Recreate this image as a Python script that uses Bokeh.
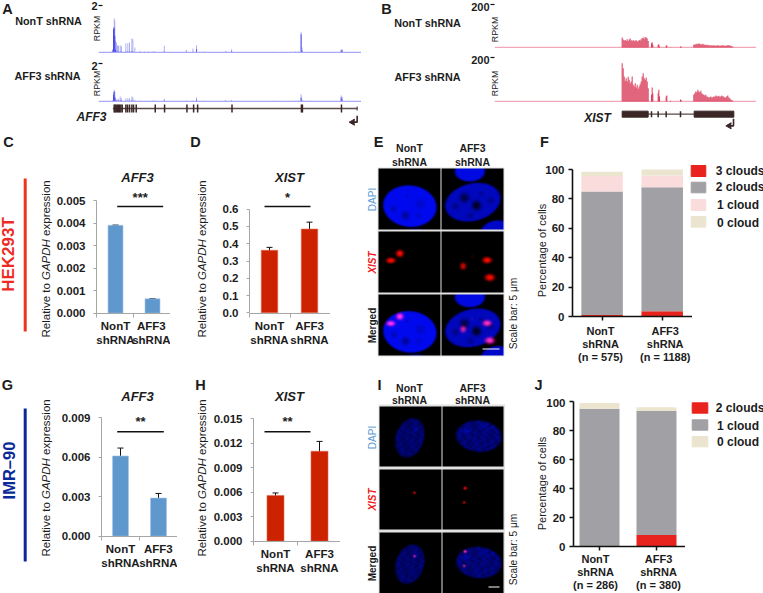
import math
import numpy as np
from bokeh.plotting import figure
from bokeh.layouts import column
from bokeh.models import (Range1d, FixedTicker, NumeralTickFormatter, Whisker, TeeHead,
                          ColumnDataSource)
from bokeh.core.properties import value
from bokeh.embed import file_html
from bokeh.resources import INLINE

FONT = "Liberation Sans"
INK = "#1c1c1c"

# ---------- data ----------
cats = ["NonT\nshRNA", "AFF3\nshRNA"]

c_vals, c_errs = [0.0039, 0.00064], [0.00001, 0.000008]
d_vals, d_errs = [0.362, 0.485], [0.017, 0.04]
g_vals, g_errs = [0.0061, 0.0029], [0.0006, 0.00035]
h_vals, h_errs = [0.0056, 0.0110], [0.0003, 0.0012]

f_cats = ["NonT\nshRNA\n(n = 575)", "AFF3\nshRNA\n(n = 1188)"]
f_3 = [1.0, 3.5]
f_2 = [84.0, 84.5]
f_1 = [10.5, 8.0]
f_0 = [3.0, 4.0]
j_cats = ["NonT\nshRNA\n(n = 286)", "AFF3\nshRNA\n(n = 380)"]
j_2 = [0.0, 8.0]
j_1 = [95.0, 85.5]
j_0 = [4.0, 2.5]

# track A: positions along the gene, read heights
a_pos = [335, 338, 340, 342, 344, 346, 349, 352, 355, 360, 364, 377, 383, 388, 395, 398, 404, 419, 433, 445, 458,
         463, 492, 558, 578, 589, 613, 675, 678, 694, 818, 885, 895, 902, 905, 932, 1022, 1025]
a1_light = [3, 10, 75, 102, 95, 35, 30, 22, 20, 22, 18, 28, 28, 30, 42, 40, 15, 5, 3, 3, 4,
            4, 20, 8, 12, 22, 3, 4, 3, 10, 2, 3, 4, 62, 15, 2, 10, 10]
a1_dark = [0, 6, 70, 75, 50, 8, 3, 2, 2, 3, 2, 3, 3, 3, 4, 3, 1, 1, 1, 1, 1,
           1, 3, 2, 2, 10, 1, 1, 1, 4, 1, 1, 1, 55, 5, 1, 6, 6]
a2_light = [1, 4, 28, 35, 30, 12, 6, 5, 8, 15, 10, 10, 10, 10, 15, 12, 5, 3, 2, 2, 3,
            3, 8, 3, 3, 12, 2, 4, 2, 4, 2, 2, 3, 22, 6, 2, 18, 14]
a2_dark = [0, 2, 20, 30, 12, 3, 2, 1, 2, 4, 2, 2, 2, 2, 3, 2, 1, 1, 1, 1, 1,
           1, 3, 1, 1, 5, 1, 2, 1, 2, 1, 1, 1, 12, 2, 1, 12, 6]
a_exons = [342, 345, 348, 352, 355, 358, 362, 366, 377, 382, 388, 395, 400, 408, 465, 493, 560, 580, 592, 695, 903,
           906, 1023]

# track B: read heights on the two exon blocks and the small exons
b_left_pos = list(range(725, 806, 3))
b1_left = [30, 24, 21, 23, 20, 25, 20, 24, 27, 22, 20, 23, 19, 21, 22, 18, 20, 23, 21, 25, 28, 30, 26, 32, 30, 27, 20]
b2_left = [115, 100, 75, 62, 70, 60, 74, 65, 55, 60, 75, 50, 45, 55, 42, 50, 38, 45, 52, 60, 75, 85, 70, 65, 72, 60, 40]
b_mid_pos = [813, 815, 817, 833, 835, 837, 857, 859, 870, 900, 902]
b1_mid = [13, 16, 8, 8, 10, 3, 6, 6, 1, 3, 2]
b2_mid = [20, 42, 25, 25, 35, 15, 15, 18, 2, 6, 4]
b_right_pos = list(range(940, 1060, 3))
b1_right = [8, 9, 10, 11, 10, 12, 11, 10, 9, 11, 9, 8, 8, 7, 8, 7, 6, 7, 6, 6, 7, 6, 5, 6, 7, 6, 5, 6, 6, 7, 6, 5, 5,
            6, 7, 7, 6, 5, 4, 2]
b2_right = [20, 25, 30, 28, 35, 30, 28, 32, 25, 22, 20, 18, 20, 15, 14, 12, 13, 15, 12, 13, 15, 14, 18, 15, 16, 17, 14,
            15, 18, 16, 14, 12, 12, 16, 18, 12, 10, 6, 4, 2]
b_small_exons = [813, 833, 857, 900]

BLUE_BAR, RED_BAR = "#5f98cd", "#cc2200"
STACK = {"3": "#e8231e", "2": "#a1a0a4", "1": "#fbdcdc", "0": "#ebe5cf"}

figs = []
LEFT_GUTTER = 50   # every figure in the column has the same left border, so their frames stay where they are put


def base(fx0, fy0, fx1, fy1, xr, yr, bb=50, bt=0):
    p = figure(width=int(fx1 - fx0 + LEFT_GUTTER), height=int(fy1 - fy0 + bt + bb),
               x_range=Range1d(*xr), y_range=Range1d(*yr),
               min_border_left=LEFT_GUTTER, min_border_right=0, min_border_top=bt, min_border_bottom=bb,
               output_backend="svg", toolbar_location=None,
               background_fill_color=None, border_fill_color=None, outline_line_color=None,
               styles={"position": "absolute", "left": f"{int(fx0)}px", "top": f"{int(fy0 - bt)}px"})
    p.grid.visible = False
    figs.append(p)
    return p


def cal(edge0, edge1, px0, v0, px1, v1):
    k = (v1 - v0) / (px1 - px0)
    return (v0 + (edge0 - px0) * k, v0 + (edge1 - px0) * k)


def bar_panel(left, right, top, bottom, y0px, ytop_px, ymax, ticks, fmt, xpx, width, vals, errs, color,
              sig, stars, stars_px, sig_px, divs):
    xr = cal(left, right, divs[0], 0, divs[1], 1)
    yr = cal(bottom, top, y0px, 0, ytop_px, ymax)
    p = base(left, top, right, bottom, xr, yr)
    k = 1 / (divs[1] - divs[0])
    xs = [(x - divs[0]) * k for x in xpx]
    p.vbar(x=xs, top=vals, bottom=0, width=width * k, color=color, line_color="#a9c8e6" if color == BLUE_BAR else "#e06a50", line_width=0.6)
    src = ColumnDataSource(dict(x=xs, lo=[v - e for v, e in zip(vals, errs)], hi=[v + e for v, e in zip(vals, errs)]))
    p.add_layout(Whisker(base="x", lower="lo", upper="hi", source=src, line_color="#111111", line_width=1,
                         upper_head=TeeHead(size=6, line_color="#111111"), lower_head=TeeHead(size=6, line_color="#111111")))
    yv = lambda px: (y0px - px) / (y0px - ytop_px) * ymax
    p.line(x=[(sig[0] - divs[0]) * k, (sig[1] - divs[0]) * k], y=[yv(sig_px), yv(sig_px)], line_color="#111111", line_width=1.6)
    p.text(x=[(sum(sig) / 2 - divs[0]) * k], y=[yv(stars_px)], text=[stars], text_align="center", text_baseline="middle",
           text_font=value(FONT), text_font_style="bold", text_font_size="13px", text_color=INK)
    ya = p.yaxis[0]
    ya.ticker = FixedTicker(ticks=ticks)
    ya.formatter = NumeralTickFormatter(format=fmt)
    ya.bounds = (0, ymax)
    ya.axis_line_color = "#a6a6a6"
    ya.major_tick_line_color = "#a6a6a6"
    ya.major_tick_in = 0
    ya.major_tick_out = 3
    ya.minor_tick_line_color = None
    ya.major_label_standoff = 8
    ya.major_label_text_font = FONT
    ya.major_label_text_font_style = "bold"
    ya.major_label_text_font_size = "11.5px"
    ya.major_label_text_color = INK
    xa = p.xaxis[0]
    tks = [round(x, 4) for x in xs]
    xa.ticker = FixedTicker(ticks=tks, minor_ticks=[0, 1, 2])
    xa.major_label_overrides = {t: c for t, c in zip(tks, cats)}
    xa.axis_line_color = "#a6a6a6"
    xa.major_tick_line_color = None
    xa.minor_tick_line_color = "#a6a6a6"
    xa.minor_tick_in = 0
    xa.minor_tick_out = 4
    xa.major_tick_out = 0
    xa.major_tick_in = 0
    xa.major_label_standoff = 2
    xa.major_label_text_font = FONT
    xa.major_label_text_font_style = "bold"
    xa.major_label_text_font_size = "11.5px"
    xa.major_label_text_color = INK
    return p


bar_panel(96, 170, 190, 313, 312.7, 200, 0.005, [0, 0.001, 0.002, 0.003, 0.004, 0.005], "0.000",
          [115, 152], 15, c_vals, c_errs, BLUE_BAR, (116.7, 162.7), "***", 197, 206, (96, 133))
bar_panel(249, 330, 190, 313, 312.3, 208.7, 0.6, [0, .1, .2, .3, .4, .5, .6], "0.0",
          [269, 309], 16.5, d_vals, d_errs, RED_BAR, (264, 310), "*", 197, 206, (249, 289.5))
bar_panel(101, 177, 410, 536, 535.7, 417.3, 0.009, [0, .003, .006, .009], "0.000",
          [120, 158], 16, g_vals, g_errs, BLUE_BAR, (116.7, 163.3), "**", 421, 431.3, (101, 139))
bar_panel(253, 340, 410, 541, 540.7, 418, 0.015, [0, .003, .006, .009, .012, .015], "0.000",
          [275, 319], 17, h_vals, h_errs, RED_BAR, (264, 310), "**", 421, 431.3, (253, 296.5))


def stack_panel(left, right, top, bottom, y0px, y100px, barc, barw, labelc, labels, layers, standoff):
    k = 1 / (barc[1] - barc[0])
    xr = cal(left, right, barc[0], 0, barc[1], 1)
    yr = cal(bottom, top, y0px, 0, y100px, 100)
    p = base(left, top, right, bottom, xr, yr, bb=70)
    bottoms = [0.0, 0.0]
    for vals, col in layers:
        tops = [b + v for b, v in zip(bottoms, vals)]
        p.vbar(x=[0, 1], top=tops, bottom=bottoms, width=barw * k, color=col, line_color=None)
        bottoms = tops
    ya = p.yaxis[0]
    ya.ticker = FixedTicker(ticks=[0, 20, 40, 60, 80, 100])
    ya.bounds = (0, 100)
    for ax in (ya, p.xaxis[0]):
        ax.axis_line_color = "#111111"
        ax.axis_line_width = 1.6
        ax.major_label_text_font = FONT
        ax.major_label_text_font_style = "bold"
        ax.major_label_text_color = INK
    ya.major_tick_line_color = "#111111"
    ya.major_tick_line_width = 1.5
    ya.major_tick_in = 0
    ya.major_tick_out = 4
    ya.minor_tick_line_color = None
    ya.major_label_standoff = 4
    ya.major_label_text_font_size = "11.5px"
    xa = p.xaxis[0]
    tks = [round((c - barc[0]) * k, 4) for c in labelc]
    xa.ticker = FixedTicker(ticks=tks, minor_ticks=[0, 1])
    xa.major_label_overrides = {t: c for t, c in zip(tks, labels)}
    xa.major_tick_line_color = None
    xa.major_tick_in = 0
    xa.major_tick_out = 0
    xa.minor_tick_line_color = "#111111"
    xa.minor_tick_in = 0
    xa.minor_tick_out = 4
    xa.minor_tick_line_width = 1.5
    xa.major_label_standoff = standoff
    xa.major_label_text_font_size = "11px"
    xa.major_label_text_line_height = 1.1
    return p


stack_panel(572, 692, 165, 316, 316, 169, (601.6, 661.7), 41.5, (600, 664.7), f_cats,
            [(f_3, STACK["3"]), (f_2, STACK["2"]), (f_1, STACK["1"]), (f_0, STACK["0"])], 4)
stack_panel(573, 685, 398, 546, 546, 401, (599, 656), 40, (595, 658), j_cats,
            [(j_2, STACK["3"]), (j_1, STACK["2"]), (j_0, STACK["0"])], 2)


# ---------- genome tracks ----------
def track_axis(p, tick, tick_in, tick_out, standoff, size="11px"):
    ya = p.yaxis[0]
    ya.ticker = FixedTicker(ticks=[tick])
    ya.axis_line_color = None
    ya.major_tick_line_color = "#111111"
    ya.major_tick_line_width = 1.2
    ya.major_tick_in = tick_in
    ya.major_tick_out = tick_out
    ya.minor_tick_line_color = None
    ya.major_label_standoff = standoff
    ya.major_label_text_font = FONT
    ya.major_label_text_font_style = "bold"
    ya.major_label_text_font_size = size
    ya.major_label_text_color = INK
    p.xaxis.visible = False


def track_a(top_px, base_px, frame_top, light, dark):
    span = (base_px - top_px) * 3
    yr = cal(base_px + 1, frame_top, base_px, 0, top_px, 2)
    p = base(98, frame_top, 361, base_px + 1, (295, 1083), yr, bb=0)
    p.vbar(x=a_pos, top=[v * 2 / span for v in light], bottom=0, width=2.6, color="#a3a3f2", line_color=None)
    p.vbar(x=a_pos, top=[v * 2 / span for v in dark], bottom=0, width=2.6, color="#3f3fe6", line_color=None)
    p.line(x=[295, 1083], y=[0, 0], line_color="#a9a9f5", line_width=1.3)
    track_axis(p, 2, 4, 0, 1)


track_a(4.7, 52, 1, a1_light, a1_dark)
track_a(62.7, 101, 60, a2_light, a2_dark)


def track_b(top_px, base_px, frame_top, left, mid, right):
    span = (base_px - top_px) * 3
    yr = cal(base_px + 1, frame_top, base_px, 0, top_px, 200)
    p = base(494, frame_top, 756, base_px + 1, (342, 1128), yr, bb=0)
    pos = b_left_pos + b_mid_pos + b_right_pos
    vals = left + mid + right
    p.line(x=[342, 1128], y=[0, 0], line_color="#f2a8b8", line_width=1.3)
    p.vbar(x=pos, top=[v * 200 / span for v in vals], bottom=0, width=3, color="#d93a58", line_color=None)
    track_axis(p, 200, 0, 4, 1)


track_b(4, 47.3, 1, b1_left, b1_mid, b1_right)
track_b(57, 101, 54, b2_left, b2_mid, b2_right)

GENE = "#3a2626"
# gene models share the x scale of the tracks; y in arbitrary lane units
ga = base(98, 100, 361, 128, (295, 1083), (84, 0), bb=0)
ga.xaxis.visible = False
ga.yaxis.visible = False
ga.line(x=[338, 1070], y=[24, 24], line_color="#5a4a4a", line_width=1.6)
ga.segment(x0=a_exons, x1=a_exons, y0=[12] * len(a_exons), y1=[36] * len(a_exons), line_color=GENE, line_width=1.5)
ga.segment(x0=[1070], x1=[1070], y0=[18], y1=[30], line_color=GENE, line_width=1)
ga.line(x=[1070, 1070, 1056], y=[46, 65, 65], line_color=GENE, line_width=1.6)
ga.patch(x=[1046, 1062, 1060, 1062], y=[65, 56, 65, 74], color=GENE)

gb = base(494, 100, 756, 130, (342, 1128), (390, 300), bb=0)
gb.xaxis.visible = False
gb.yaxis.visible = False
gb.line(x=[725, 1060], y=[341, 341], line_color="#5a4a4a", line_width=1.4)
gb.quad(left=[725, 941], right=[803, 1060], top=[332, 332], bottom=[350, 350], color=GENE)
gb.segment(x0=b_small_exons, x1=b_small_exons, y0=[332] * 4, y1=[350] * 4, line_color=GENE, line_width=1.5)
gb.line(x=[1059, 1059, 1046], y=[355, 376, 376], line_color=GENE, line_width=1.6)
gb.patch(x=[1036, 1052, 1050, 1052], y=[376, 367, 376, 385], color=GENE)


# ---------- micrographs ----------
def soft_ellipse(U, V, cx, cy, a, b, deg=0, edge=6):
    t = math.radians(deg)
    dx, dy = U - cx, V - cy
    rx = dx * math.cos(t) + dy * math.sin(t)
    ry = -dx * math.sin(t) + dy * math.cos(t)
    r = np.sqrt((rx / a) ** 2 + (ry / b) ** 2)
    return np.clip((1 - r) * min(a, b) / edge + 0.5, 0, 1)


def blob(U, V, cx, cy, rx, ry=None):
    ry = rx if ry is None else ry
    return np.exp(-(((U - cx) / rx) ** 2 + ((V - cy) / ry) ** 2) ** 1.4)


def micro(W, H, cols, rows, tw, th, nuclei, holes, spots, texture, bar, bright=None):
    Y, X = np.mgrid[0:H, 0:W]
    U, V = X * 3 + 1.5, Y * 3 + 1.5
    R = np.ones((H, W)) * 255
    G = np.ones((H, W)) * 255
    B = np.ones((H, W)) * 255
    frame = (U > cols[0] - 4) & (U < cols[1] + tw + 4) & (V > rows[0] - 4) & (V < rows[2] + th + 4)
    R[frame], G[frame], B[frame] = 226, 226, 226
    for c, cx0 in enumerate(cols):
        for r, cy0 in enumerate(rows):
            mask = (U >= cx0) & (U < cx0 + tw) & (V >= cy0) & (V < cy0 + th)
            u, v = U - cx0, V - cy0
            d = np.zeros_like(u, dtype=float)
            red = np.zeros_like(u, dtype=float)
            if r != 1:
                for (cx, cy, a, b, deg, amp) in nuclei[c]:
                    d = np.maximum(d, amp * soft_ellipse(u, v, cx, cy, a, b, deg))
                if texture:
                    d = d * (0.7 + 0.16 * np.sin(u * 0.23 + 1.7 * np.sin(v * 0.11)) * np.sin(v * 0.19 + c + 1.4 * np.sin(u * 0.07)) +
                             0.14 * np.sin(u * 0.47 + v * 0.13 + 2 * np.sin(v * 0.05)) * np.sin(v * 0.41 - u * 0.21))
                for (cx, cy, rad, depth) in holes[c]:
                    d = d * (1 - depth * blob(u, v, cx, cy, rad))
                if bright:
                    for (cx, cy, rad, amp) in bright[c]:
                        d = d + amp * blob(u, v, cx, cy, rad) * (d > 10)
            if r != 0:
                for (cx, cy, rx, ry, amp) in spots[c]:
                    red = np.maximum(red, amp * blob(u, v, cx, cy, rx, ry))
            if r == 2:
                tr, tg, tb = 255 * red, 45 * red ** 2, np.maximum(d, 200 * red)
            else:
                tr, tg, tb = 255 * red, 10 * red, d
            tg = tg + 0.04 * d
            if r == 2 and c == 1:
                bx0, bx1, by0, by1 = bar
                white = (u >= bx0) & (u < bx1) & (v >= by0) & (v < by1)
                tr, tg, tb = np.where(white, 255, tr), np.where(white, 255, tg), np.where(white, 255, tb)
            R[mask], G[mask], B[mask] = tr[mask], tg[mask], tb[mask]
    img = np.zeros((H, W), dtype=np.uint32)
    view = img.view(dtype=np.uint8).reshape((H, W, 4))
    view[:, :, 0] = np.clip(R, 0, 255)
    view[:, :, 1] = np.clip(G, 0, 255)
    view[:, :, 2] = np.clip(B, 0, 255)
    view[:, :, 3] = 255
    return img[::-1]


e_nuclei = [[(93, 112, 80, 62, 6, 238), (110, 186, 25, 6, 0, 150)],
            [(94, 100, 84, 56, -14, 190), (85, 8, 45, 30, 0, 225), (160, 182, 42, 26, -15, 200)]]
e_holes = [[(80, 140, 12, 0.35), (45, 120, 10, 0.2), (125, 105, 14, 0.15), (85, 80, 6, 0.12), (120, 140, 10, 0.12)],
           [(105, 110, 14, 0.8), (69, 87, 14, 0.6), (42, 112, 10, 0.3), (147, 95, 10, 0.25), (87, 140, 10, 0.25),
            (120, 75, 8, 0.2)]]
e_spots = [[(63, 66, 11, 10, 1.0), (36, 87, 13, 8, 1.0)],
           [(137, 86, 13, 9, 1.0), (145, 138, 14, 10, 1.0), (65, 104, 9, 10, 0.8), (92, 74, 4, 4, 0.18)]]
i_nuclei = [[(90, 95, 42, 60, 18, 150)], [(109, 90, 68, 47, 5, 165)]]
i_holes = [[], []]
i_bright = [[(105, 70, 8, 40)], [(70, 75, 7, 80), (125, 60, 9, 40), (150, 65, 5, 40)]]
i_spots = [[(104, 71, 4, 4, 0.85)], [(68, 57, 5, 4.5, 1.0), (65, 100, 4, 4, 0.85)]]


def micro_panel(x0, y0, W, H, **kw):
    p = base(x0, y0, x0 + W, y0 + H, (0, W), (0, H), bb=0)
    p.xaxis.visible = False
    p.yaxis.visible = False
    p.image_rgba(image=[micro(W, H, **kw)], x=0, y=0, dw=W, dh=H)


micro_panel(375, 165, 130, 195, cols=[10, 198], rows=[10, 198, 387], tw=185, th=183, nuclei=e_nuclei, holes=e_holes,
            spots=e_spots, texture=False, bar=(122, 174, 161, 166))
micro_panel(375, 403, 130, 190, cols=[13, 201], rows=[8, 197, 387], tw=184, th=182, nuclei=i_nuclei, holes=i_holes,
            spots=i_spots, texture=True, bar=(139, 171, 162, 166), bright=i_bright)

# ---------- annotation layer, in page pixels ----------
o = base(0, 0, 763, 593, (0, 763), (593, 0), bb=0)
o.xaxis.visible = False
o.yaxis.visible = False


def t(x, y, s, size=11, color=INK, style="bold", angle=0.0, align="center", base_="middle"):
    o.text(x=[x], y=[y], text=[s], text_font=value(FONT), text_font_size=f"{size}px", text_font_style=style,
           text_color=color, angle=angle, text_align=align, text_baseline=base_)


UP = math.pi / 2
for s, x, y in [("A", 7, 8), ("B", 386, 8), ("C", 8, 141), ("D", 195, 141), ("E", 378, 141), ("F", 544, 141),
                ("G", 7, 384), ("H", 200, 384), ("I", 379, 384), ("J", 538, 384)]:
    t(x, y, s, size=14.5)

for x, y, s in [(48, 20, "NonT shRNA"), (47, 75, "AFF3 shRNA"), (427, 22, "NonT shRNA"), (427, 76, "AFF3 shRNA")]:
    t(x, y, s, size=10.8)
for x, y in [(96, 28), (96, 83), (494, 29), (494, 83)]:
    t(x, y, "RPKM", size=8.8, style="normal", angle=UP)
t(91, 116, "AFF3", size=12, style="bold italic")
t(597, 117, "XIST", size=12, style="bold italic")

for x, y, s in [(137, 177, "AFF3"), (289, 177, "XIST"), (137, 396, "AFF3"), (289, 396, "XIST")]:
    t(x, y, s, size=13, style="bold italic")


def gapdh_label(x, y_bottom):
    size = 11.5
    for s, style, em in [("Relative to", "normal", 0.0), ("GAPDH", "italic", 5.0), ("expression", "normal", 8.834)]:
        t(x, y_bottom - em * size, s, size=size, style=style, angle=UP, align="left")


for x, yb in [(45, 337), (201, 337), (45, 556), (201, 556)]:
    gapdh_label(x, yb)

t(8, 254, "HEK293T", size=17, color="#ee2a24", style="bold", angle=UP)
t(8, 470, "IMR\u201390", size=16.5, color="#0a2a9a", style="bold", angle=UP)
o.line(x=[24.7, 24.7], y=[178, 331], line_color="#ee3322", line_width=3)
o.line(x=[24.7, 24.7], y=[408, 561], line_color="#0a2a9a", line_width=3)

for x, s in [(409, "NonT"), (472, "AFF3")]:
    t(x, 147, s, size=10.5)
    t(x, 387, s, size=10.5)
for x in (409, 472):
    t(x, 161, "shRNA", size=10.5)
    t(x, 399, "shRNA", size=10.5)
for y, s, c, st in [(199, "DAPI", "#5b9bd5", "normal"), (262, "XIST", "#ee2020", "bold italic"), (325, "Merged", INK, "bold"),
                    (437, "DAPI", "#5b9bd5", "normal"), (499, "XIST", "#ee2020", "bold italic"), (563, "Merged", INK, "bold")]:
    t(372, y, s, size=10, color=c, style=st, angle=UP)
t(513, 313, "Scale bar: 5 \u03bcm", size=10.2, style="normal", angle=UP)
t(513, 549, "Scale bar: 5 \u03bcm", size=10.2, style="normal", angle=UP)
t(541.7, 250, "Percentage of cells", size=11, style="normal", angle=UP)
t(541.7, 483, "Percentage of cells", size=11, style="normal", angle=UP)

f_legend = ["3 clouds", "2 clouds", "1 cloud", "0 cloud"]
j_legend = ["2 clouds", "1 cloud", "0 cloud"]
for lab, key, y0, y1, yt, xt in zip(f_legend, "3210", (165, 181.7, 199, 216), (176, 192.3, 210, 226.7), (170, 186, 204, 222),
                                   (715.3, 715.3, 716.5, 716.5)):
    o.quad(left=[690.7], right=[705.3], top=[y0], bottom=[y1], color=STACK[key])
    t(xt, yt, lab, size=12, align="left")
for lab, key, y0, y1, yt, xt in zip(j_legend, "320", (402.3, 419.3, 436), (412.7, 429.7, 446.3), (407.7, 425, 441.7),
                                   (715.3, 716.5, 716.5)):
    o.quad(left=[691.7], right=[707.3], top=[y0], bottom=[y1], color=STACK[key])
    t(xt, yt, lab, size=12, align="left")

root = column(*figs, width=763 + LEFT_GUTTER, height=593,
              styles={"position": "absolute", "left": f"{-LEFT_GUTTER}px", "top": "0px", "overflow": "hidden"})
open("out.html", "w").write(file_html(root, INLINE))
